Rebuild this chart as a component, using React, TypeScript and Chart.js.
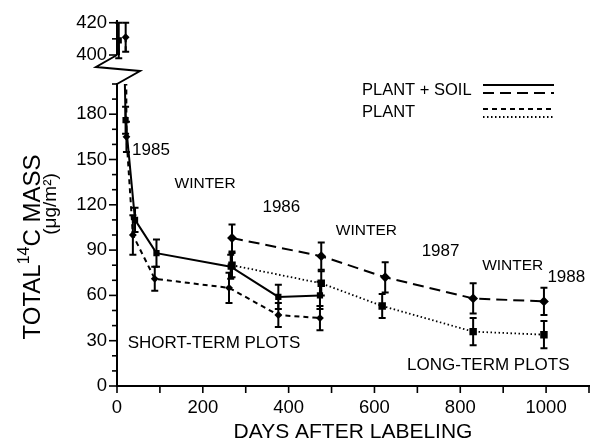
import React, { useEffect, useRef } from 'react';
import { Chart, registerables } from 'chart.js';
Chart.register(...registerables);

const FONT = '"Liberation Sans", Arial, Helvetica, sans-serif';

// ---- data (days after labeling, total 14C mass in ug/m2, +/- error) ----
// Short-term plots, plant + soil (solid)
const shortDaysPS = [4, 20, 42, 92, 265, 376, 473];
const shortMassPS = [409, 176, 110, 88, 79, 59, 60];
const shortErrPS = [11, 9, 8, 9, 8, 8, 9];
// Short-term plots, plant (short dashes)
const shortDaysP = [20, 22, 37, 88, 261, 376, 473];
const shortMassP = [411, 165, 100, 71, 65, 47, 45];
const shortErrP = [9, 10, 13, 8, 10, 8, 8];
// Long-term plots, plant + soil (long dashes)
const longDaysPS = [268, 476, 625, 830, 995];
const longMassPS = [98, 86, 72, 58, 56];
const longErrPS = [9, 9, 10, 10, 9];
// Long-term plots, plant (dotted)
const longDaysP = [268, 476, 618, 830, 995];
const longMassP = [80, 68, 53, 36, 34];
const longErrP = [8, 8, 8, 9, 9];

// tick labels
const xTickLabels = [0, 200, 400, 600, 800, 1000];
const yLowerLabels = [0, 30, 60, 90, 120, 150, 180];
const yUpperLabels = [400, 420];

// in-plot notes (text, anchored in data coordinates)
const noteTexts = ['1985', 'WINTER', '1986', 'WINTER', '1987', 'WINTER', '1988', 'SHORT-TERM PLOTS', 'LONG-TERM PLOTS'];
const noteDays = [35, 134, 339, 510, 710, 851, 1003, 25, 676];
const noteMass = [156, 134, 118.5, 103, 89.5, 79.5, 72, 28.5, 14];

const legendLabels = ['PLANT + SOIL', 'PLANT'];

const pts = (d: number[], v: number[]) => d.map((x, i) => ({ x, y: v[i] }));

function makeDatasets() {
  return [
    {
      label: 'Short-term plant + soil',
      data: pts(shortDaysPS, shortMassPS),
      errors: shortErrPS,
      borderColor: '#000',
      borderWidth: 2,
      pointStyle: 'rect',
      pointRadius: 3,
      pointBackgroundColor: '#000',
      pointBorderColor: '#000',
    },
    {
      label: 'Short-term plant',
      data: pts(shortDaysP, shortMassP),
      errors: shortErrP,
      borderColor: '#000',
      borderWidth: 2,
      borderDash: [5, 4],
      pointStyle: 'rectRot',
      pointRadius: 2.5,
      pointBackgroundColor: '#000',
      pointBorderColor: '#000',
    },
    {
      label: 'Long-term plant + soil',
      data: pts(longDaysPS, longMassPS),
      errors: longErrPS,
      borderColor: '#000',
      borderWidth: 2,
      borderDash: [11, 6],
      pointStyle: 'rectRot',
      pointRadius: 3.5,
      pointBackgroundColor: '#000',
      pointBorderColor: '#000',
    },
    {
      label: 'Long-term plant',
      data: pts(longDaysP, longMassP),
      errors: longErrP,
      borderColor: '#000',
      borderWidth: 1.8,
      borderDash: [1.5, 2.5],
      pointStyle: 'rect',
      pointRadius: 4,
      pointBackgroundColor: '#000',
      pointBorderColor: '#000',
    },
  ];
}

const errorBarPlugin = {
  id: 'errorBars',
  afterDatasetsDraw(chart: any, _a: any, opts: any) {
    const { ctx, chartArea, scales } = chart;
    const extraBottom = opts && opts.extraBottom ? opts.extraBottom : 1;
    ctx.save();
    ctx.beginPath();
    ctx.rect(chartArea.left - 8, chartArea.top - 3, chartArea.right - chartArea.left + 16, chartArea.bottom - chartArea.top + 3 + extraBottom);
    ctx.clip();
    ctx.strokeStyle = '#000';
    ctx.lineWidth = 2;
    chart.data.datasets.forEach((ds: any) => {
      const errs: number[] = ds.errors;
      if (!errs) return;
      ds.data.forEach((p: any, j: number) => {
        const x = scales.x.getPixelForValue(p.x);
        const yLo = scales.y.getPixelForValue(p.y - errs[j]);
        const yHi = scales.y.getPixelForValue(p.y + errs[j]);
        ctx.beginPath();
        ctx.moveTo(x, yLo);
        ctx.lineTo(x, yHi);
        ctx.moveTo(x - 3.5, yLo);
        ctx.lineTo(x + 3.5, yLo);
        ctx.moveTo(x - 3.5, yHi);
        ctx.lineTo(x + 3.5, yHi);
        ctx.stroke();
      });
    });
    ctx.restore();
  },
};

const tickPlugin = {
  id: 'tickMarks',
  afterDraw(chart: any) {
    const { ctx } = chart;
    ctx.save();
    ctx.strokeStyle = '#000';
    ctx.lineWidth = 1.6;
    const ys = chart.scales.y;
    ys.ticks.forEach((t: any) => {
      const py = ys.getPixelForValue(t.value);
      const len = t.label ? 8 : 5;
      ctx.beginPath();
      ctx.moveTo(ys.right - len, py);
      ctx.lineTo(ys.right, py);
      ctx.stroke();
    });
    const xs = chart.scales.x;
    if (xs.options.display) {
      xs.ticks.forEach((t: any) => {
        const px = xs.getPixelForValue(t.value);
        ctx.beginPath();
        ctx.moveTo(px, xs.top);
        ctx.lineTo(px, xs.top + 7);
        ctx.stroke();
      });
    }
    ctx.restore();
  },
};

const decorPlugin = {
  id: 'decor',
  afterDraw(chart: any) {
    const { ctx, chartArea, scales } = chart;
    const L = chartArea.left;
    const T = chartArea.top;
    ctx.save();
    ctx.fillStyle = '#000';
    ctx.strokeStyle = '#000';

    // axis break (Z)
    ctx.lineWidth = 2;
    ctx.beginPath();
    ctx.moveTo(L, T - 29);
    ctx.lineTo(L - 21, T - 17);
    ctx.lineTo(L + 23, T - 13);
    ctx.lineTo(L, T);
    ctx.stroke();

    // notes
    ctx.textAlign = 'left';
    ctx.textBaseline = 'middle';
    noteTexts.forEach((txt, i) => {
      const size = txt === 'WINTER' ? 15.5 : 17;
      ctx.font = `${size}px ${FONT}`;
      ctx.fillText(txt, scales.x.getPixelForValue(noteDays[i]), scales.y.getPixelForValue(noteMass[i]));
    });

    // legend
    ctx.font = `16.5px ${FONT}`;
    ctx.fillText(legendLabels[0], 362, 90);
    ctx.fillText(legendLabels[1], 362, 112);
    const seg = (y: number, dash: number[], w: number) => {
      ctx.save();
      ctx.lineWidth = w;
      ctx.setLineDash(dash);
      ctx.beginPath();
      ctx.moveTo(483, y);
      ctx.lineTo(554, y);
      ctx.stroke();
      ctx.restore();
    };
    seg(85, [], 2);
    seg(93, [11, 6], 2);
    seg(109, [5, 4], 2);
    seg(117, [1.5, 2.5], 1.8);

    // x title
    ctx.textAlign = 'center';
    ctx.font = `21px ${FONT}`;
    ctx.fillText('DAYS AFTER LABELING', (chartArea.left + chartArea.right) / 2, 432);

    // y title
    ctx.save();
    ctx.translate(33, 247);
    ctx.rotate(-Math.PI / 2);
    ctx.textAlign = 'left';
    const big = `24px ${FONT}`;
    const small = `16px ${FONT}`;
    ctx.font = big;
    const w1 = ctx.measureText('TOTAL').width;
    const w3 = ctx.measureText('C MASS').width;
    ctx.font = small;
    const w2 = ctx.measureText('14').width;
    let x = -(w1 + w2 + w3) / 2;
    ctx.font = big;
    ctx.fillText('TOTAL', x, 0);
    x += w1;
    ctx.font = small;
    ctx.fillText('14', x, -8);
    x += w2;
    ctx.font = big;
    ctx.fillText('C MASS', x, 0);
    ctx.restore();

    ctx.save();
    ctx.translate(51, 204);
    ctx.rotate(-Math.PI / 2);
    ctx.textAlign = 'center';
    ctx.font = `19px ${FONT}`;
    ctx.fillText('(\u03bcg/m\u00b2)', 0, 0);
    ctx.restore();

    ctx.restore();
  },
};

const tickFont = { family: FONT, size: 18.5 };

export default function App() {
  const lowerRef = useRef<HTMLCanvasElement>(null);
  const upperRef = useRef<HTMLCanvasElement>(null);

  useEffect(() => {
    document.body.style.margin = '0';
    const lower = new Chart(lowerRef.current as HTMLCanvasElement, {
      type: 'line',
      data: { datasets: makeDatasets() as any },
      options: {
        responsive: false,
        animation: false,
        devicePixelRatio: 1,
        layout: { padding: { top: 84, right: 6, left: 0, bottom: 0 } },
        plugins: { legend: { display: false }, tooltip: { enabled: false } },
        scales: {
          x: {
            type: 'linear',
            min: 0,
            max: 1100,
            afterFit: (s: any) => { s.height = 58; },
            ticks: {
              stepSize: 100,
              maxTicksLimit: 100,
              autoSkip: false,
              maxRotation: 0,
              padding: 11,
              color: '#000',
              font: tickFont,
              callback: (v: any) => (xTickLabels.includes(v) ? String(v) : ''),
            },
            grid: { display: false, drawTicks: false },
            border: { display: true, color: '#000', width: 2 },
          },
          y: {
            type: 'linear',
            min: 0,
            max: 200,
            afterFit: (s: any) => { s.width = 117; },
            ticks: {
              stepSize: 10,
              maxTicksLimit: 100,
              autoSkip: false,
              padding: 10,
              color: '#000',
              font: tickFont,
              callback: (v: any) => (yLowerLabels.includes(v) ? String(v) : ''),
            },
            grid: { display: false, drawTicks: false },
            border: { display: true, color: '#000', width: 2 },
          },
        },
      } as any,
      plugins: [errorBarPlugin, tickPlugin, decorPlugin],
    });

    const upper = new Chart(upperRef.current as HTMLCanvasElement, {
      type: 'line',
      data: { datasets: makeDatasets() as any },
      options: {
        responsive: false,
        animation: false,
        devicePixelRatio: 1,
        layout: { padding: { top: 13, right: 6, left: 0, bottom: 389 } },
        plugins: { legend: { display: false }, tooltip: { enabled: false }, errorBars: { extraBottom: 7 } },
        scales: {
          x: { type: 'linear', min: 0, max: 1100, display: false },
          y: {
            type: 'linear',
            min: 400,
            max: 421,
            afterFit: (s: any) => { s.width = 117; },
            ticks: {
              stepSize: 10,
              includeBounds: false,
              autoSkip: false,
              padding: 10,
              color: '#000',
              font: tickFont,
              callback: (v: any) => (yUpperLabels.includes(v) ? String(v) : ''),
            },
            grid: { display: false, drawTicks: false },
            border: { display: true, color: '#000', width: 2 },
          },
        },
      } as any,
      plugins: [errorBarPlugin, tickPlugin],
    });

    return () => {
      lower.destroy();
      upper.destroy();
    };
  }, []);

  return (
    <div style={{ position: 'fixed', left: 0, top: 0, width: 600, height: 444, background: '#fff' }}>
      <canvas ref={lowerRef} width={600} height={444} style={{ position: 'absolute', left: 0, top: 0 }} />
      <canvas ref={upperRef} width={600} height={444} style={{ position: 'absolute', left: 0, top: 0 }} />
    </div>
  );
}
